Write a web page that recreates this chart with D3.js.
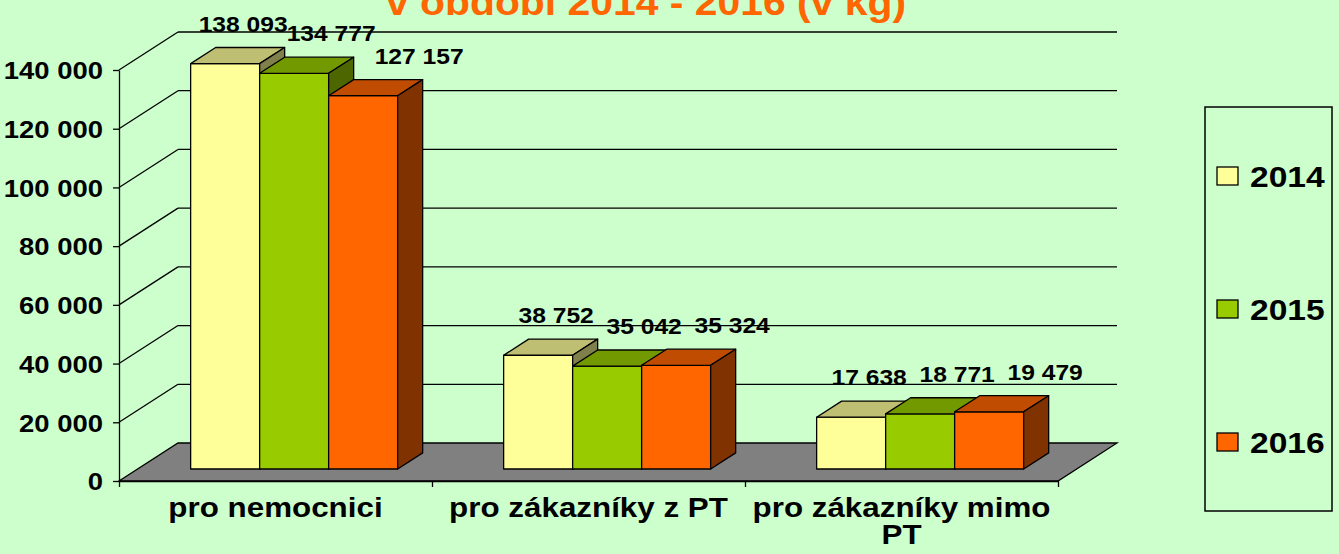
<!DOCTYPE html>
<html>
<head>
<meta charset="utf-8">
<script src="https://cdn.jsdelivr.net/npm/d3@7"></script>
<style>
  body { margin: 0; background: #CCFFCC; }
  svg { display: block; font-family: "Liberation Sans", Arial, sans-serif; font-weight: bold; }
</style>
</head>
<body>
<div id="chart"></div>
<script>
var categories = ["pro nemocnici", "pro zákazníky z PT", "pro zákazníky mimo PT"];
var years = ["2014", "2015", "2016"];
var values2014 = [138093, 38752, 17638];
var values2015 = [134777, 35042, 18771];
var values2016 = [127157, 35324, 19479];
var yTicks = [0, 20000, 40000, 60000, 80000, 100000, 120000, 140000];
var title = "v období 2014 - 2016 (v kg)";

var frontColors = ["#FFFF99", "#99CC00", "#FF6600"];
var topColors = ["#BFBF73", "#739900", "#BF4C00"];
var sideColors = ["#80804D", "#4D6600", "#803300"];

var series = [values2014, values2015, values2016];

var width = 1339, height = 554;
var DX = 59, DY = -38;      // depth of the 3d box
var f1 = 0.316, f2 = 0.74;  // bar front / back inside the depth
var SX = 1.12;              // the picture is stretched sideways

var fmt = d3.formatLocale({decimal: ",", thousands: " ", grouping: [3], currency: ["", ""]}).format(",d");

var svg = d3.select("#chart").append("svg")
  .attr("width", width)
  .attr("height", height);

var y = d3.scaleLinear()
  .domain([0, 140000])
  .range([481, 70]);

var x0 = d3.scaleBand()
  .domain(categories)
  .range([119, 1058]);

var x1 = d3.scaleBand()
  .domain(years)
  .range([0, x0.bandwidth()])
  .paddingOuter(0.768);

function stretchedText(g, x, yy, txt, size, anchor) {
  return g.append("text")
    .attr("transform", "translate(" + x + "," + yy + ") scale(" + SX + ",1)")
    .attr("text-anchor", anchor || "middle")
    .style("font-size", size + "px")
    .text(txt);
}

// floor
var xl = x0.range()[0], xr = x0.range()[1];
svg.append("polygon")
  .attr("points", [[xl, y(0)], [xl + DX, y(0) + DY], [xr + DX, y(0) + DY], [xr, y(0)]].join(" "))
  .attr("fill", "#808080")
  .attr("stroke", "#000")
  .attr("stroke-width", 1.3);

// walls: grid lines
var grid = svg.append("g").attr("stroke", "#000").attr("stroke-width", 1.3);
grid.selectAll(".back").data(yTicks.slice(1)).enter().append("line")
  .attr("x1", xl + DX).attr("x2", xr + DX)
  .attr("y1", function(d){ return y(d) + DY; })
  .attr("y2", function(d){ return y(d) + DY; });
grid.selectAll(".side").data(yTicks.slice(1)).enter().append("line")
  .attr("x1", xl).attr("x2", xl + DX)
  .attr("y1", function(d){ return y(d); })
  .attr("y2", function(d){ return y(d) + DY; });

// y axis
var yAxis = svg.append("g")
  .attr("transform", "translate(" + xl + ",0)")
  .call(d3.axisLeft(y).tickValues(yTicks).tickFormat(fmt).tickSize(6).tickSizeOuter(0));
yAxis.select(".domain").attr("stroke-width", 1.3);
yAxis.selectAll(".tick line").attr("stroke-width", 1.3);
yAxis.selectAll(".tick text")
  .attr("x", null).attr("dy", null)
  .attr("transform", "translate(-16,0) scale(" + SX + ",1)")
  .attr("dy", "0.36em")
  .style("font-size", "24.5px")
  .style("font-family", "'Liberation Sans', Arial, sans-serif")
  .style("font-weight", "bold")
  .attr("fill", "#000");

// x axis with ticks on category borders
var xb = d3.scaleLinear().domain([0, categories.length]).range([xl, xr]);
var xAxis = svg.append("g")
  .attr("transform", "translate(0," + y(0) + ")")
  .call(d3.axisBottom(xb).tickValues(d3.range(categories.length + 1)).tickFormat("").tickSize(6).tickSizeOuter(0));
xAxis.select(".domain").attr("stroke-width", 1.3);
xAxis.selectAll(".tick line").attr("stroke-width", 1.3);

// category labels, wrapped to band width
var catG = svg.append("g");
categories.forEach(function(c) {
  var cx = x0(c) + x0.bandwidth() / 2;
  var words = c.split(" ");
  var lines = [], line = [];
  var t = stretchedText(catG, cx, 518, "", 28);
  words.forEach(function(w) {
    line.push(w);
    t.text(line.join(" "));
    if (t.node().getComputedTextLength() * SX > x0.bandwidth() - 10 && line.length > 1) {
      line.pop();
      lines.push(line.join(" "));
      line = [w];
    }
  });
  lines.push(line.join(" "));
  t.remove();
  lines.forEach(function(l, i) {
    stretchedText(catG, cx, 517 + i * 27, l, 28);
  });
});

// bars
var bars = svg.append("g").attr("stroke", "#000").attr("stroke-width", 1.3).attr("stroke-linejoin", "round");
var ddx = (f2 - f1) * DX, ddy = (f2 - f1) * DY;
categories.forEach(function(c, ci) {
  years.forEach(function(yr, si) {
    var v = series[si][ci];
    var bx = x0(c) + x1(yr) + f1 * DX;
    var bw = x1.bandwidth();
    var yt = y(v) + f1 * DY;
    var yb = y(0) + f1 * DY;
    bars.append("rect")
      .attr("x", bx).attr("y", yt)
      .attr("width", bw).attr("height", yb - yt)
      .attr("fill", frontColors[si]);
    bars.append("polygon")
      .attr("points", [[bx, yt], [bx + bw, yt], [bx + bw + ddx, yt + ddy], [bx + ddx, yt + ddy]].join(" "))
      .attr("fill", topColors[si]);
    bars.append("polygon")
      .attr("points", [[bx + bw, yt], [bx + bw + ddx, yt + ddy], [bx + bw + ddx, yb + ddy], [bx + bw, yb]].join(" "))
      .attr("fill", sideColors[si]);
  });
});

// value labels
var labels = svg.append("g");
categories.forEach(function(c, ci) {
  years.forEach(function(yr, si) {
    var v = series[si][ci];
    var cx = x0(c) + x1(yr) + f1 * DX + x1.bandwidth() / 2 + 18 + 19 * si;
    stretchedText(labels, cx, y(v) + f1 * DY - 32, fmt(v), 22);
  });
});

// title (partly above the picture)
stretchedText(svg, 646, 15, title, 36.5).attr("fill", "#FF6600");

// legend
var ly = d3.scalePoint().domain(years).range([176, 442]);
var legend = svg.append("g");
legend.append("rect")
  .attr("x", 1205).attr("y", 107).attr("width", 127).attr("height", 404)
  .attr("fill", "none").attr("stroke", "#000").attr("stroke-width", 1.5);
years.forEach(function(yr, si) {
  legend.append("rect")
    .attr("x", 1217).attr("y", ly(yr) - 9).attr("width", 21).attr("height", 18)
    .attr("fill", frontColors[si]).attr("stroke", "#000").attr("stroke-width", 1.3);
  stretchedText(legend, 1250, ly(yr) + 11, yr, 30, "start");
});
</script>
</body>
</html>
